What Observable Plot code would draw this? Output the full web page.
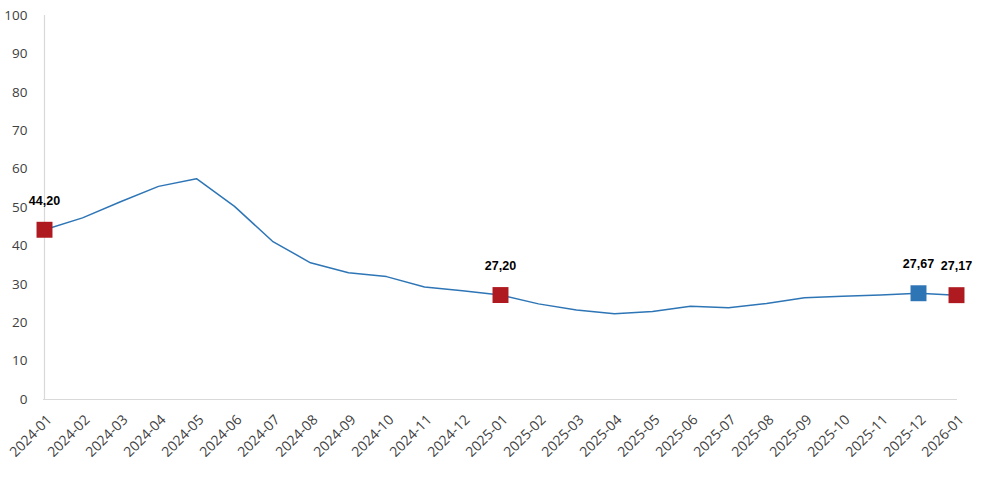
<!DOCTYPE html>
<html>
<head>
<meta charset="utf-8">
<script src="https://cdn.jsdelivr.net/npm/d3@7"></script>
<script src="https://cdn.jsdelivr.net/npm/@observablehq/plot@0.6"></script>
<style>
  html, body { margin: 0; padding: 0; background: #fff; }
  #chart svg { display: block; }
</style>
</head>
<body>
<div id="chart"></div>
<script>
const months = ["2024-01","2024-02","2024-03","2024-04","2024-05","2024-06","2024-07","2024-08","2024-09","2024-10","2024-11","2024-12",
                "2025-01","2025-02","2025-03","2025-04","2025-05","2025-06","2025-07","2025-08","2025-09","2025-10","2025-11","2025-12","2026-01"];
const values = [44.20, 47.3, 51.5, 55.5, 57.5, 50.3, 41.2, 35.6, 33.0, 32.0, 29.3, 28.3,
                27.20, 24.9, 23.3, 22.3, 22.9, 24.3, 23.9, 25.0, 26.5, 26.9, 27.2, 27.67, 27.17];
const yTicks = [0, 10, 20, 30, 40, 50, 60, 70, 80, 90, 100];
const markedMonths = ["2024-01", "2025-01", "2025-12", "2026-01"];
const markedKinds = ["key", "key", "previous", "key"];
const markedLabels = ["44,20", "27,20", "27,67", "27,17"];

const data = months.map((m, i) => ({month: m, value: values[i]}));
const marked = markedMonths.map((m, i) => ({
  month: m, value: values[months.indexOf(m)], kind: markedKinds[i], label: markedLabels[i]
}));

const chart = Plot.plot({
  width: 987,
  height: 483,
  marginLeft: 43,
  marginRight: 30,
  marginTop: 15,
  marginBottom: 84,
  style: {fontFamily: "'Open Sans', sans-serif", color: "#404040", background: "#fff"},
  x: {type: "point", domain: months, padding: 0, label: null},
  y: {domain: [0, 100], label: null},
  color: {domain: ["key", "previous"], range: ["#ae1a20", "#2e75b6"]},
  marks: [
    Plot.axisY(yTicks, {tickSize: 0, tickPadding: 16, fontSize: 13.5, fill: "#404040", label: null}),
    Plot.axisX({tickRotate: -45, tickSize: 0, tickPadding: 18, dx: 5, fontSize: 14, fill: "#404040", label: null}),
    Plot.ruleX([months[0]], {stroke: "#d9d9d9", strokeWidth: 1.2}),
    Plot.ruleY([0], {stroke: "#d9d9d9", strokeWidth: 1.2}),
    Plot.line(data, {x: "month", y: "value", stroke: "#2e75b6", strokeWidth: 1.5}),
    Plot.dot(marked, {x: "month", y: "value", symbol: "square", r: 9, fill: "kind", stroke: "none"}),
    Plot.text(marked, {x: "month", y: "value", text: "label", dy: -29, fontSize: 12.5, fontWeight: "bold",
                        fontFamily: "'Liberation Sans', Arial, sans-serif", fill: "#000"})
  ]
});
document.getElementById("chart").append(chart);
</script>
</body>
</html>
